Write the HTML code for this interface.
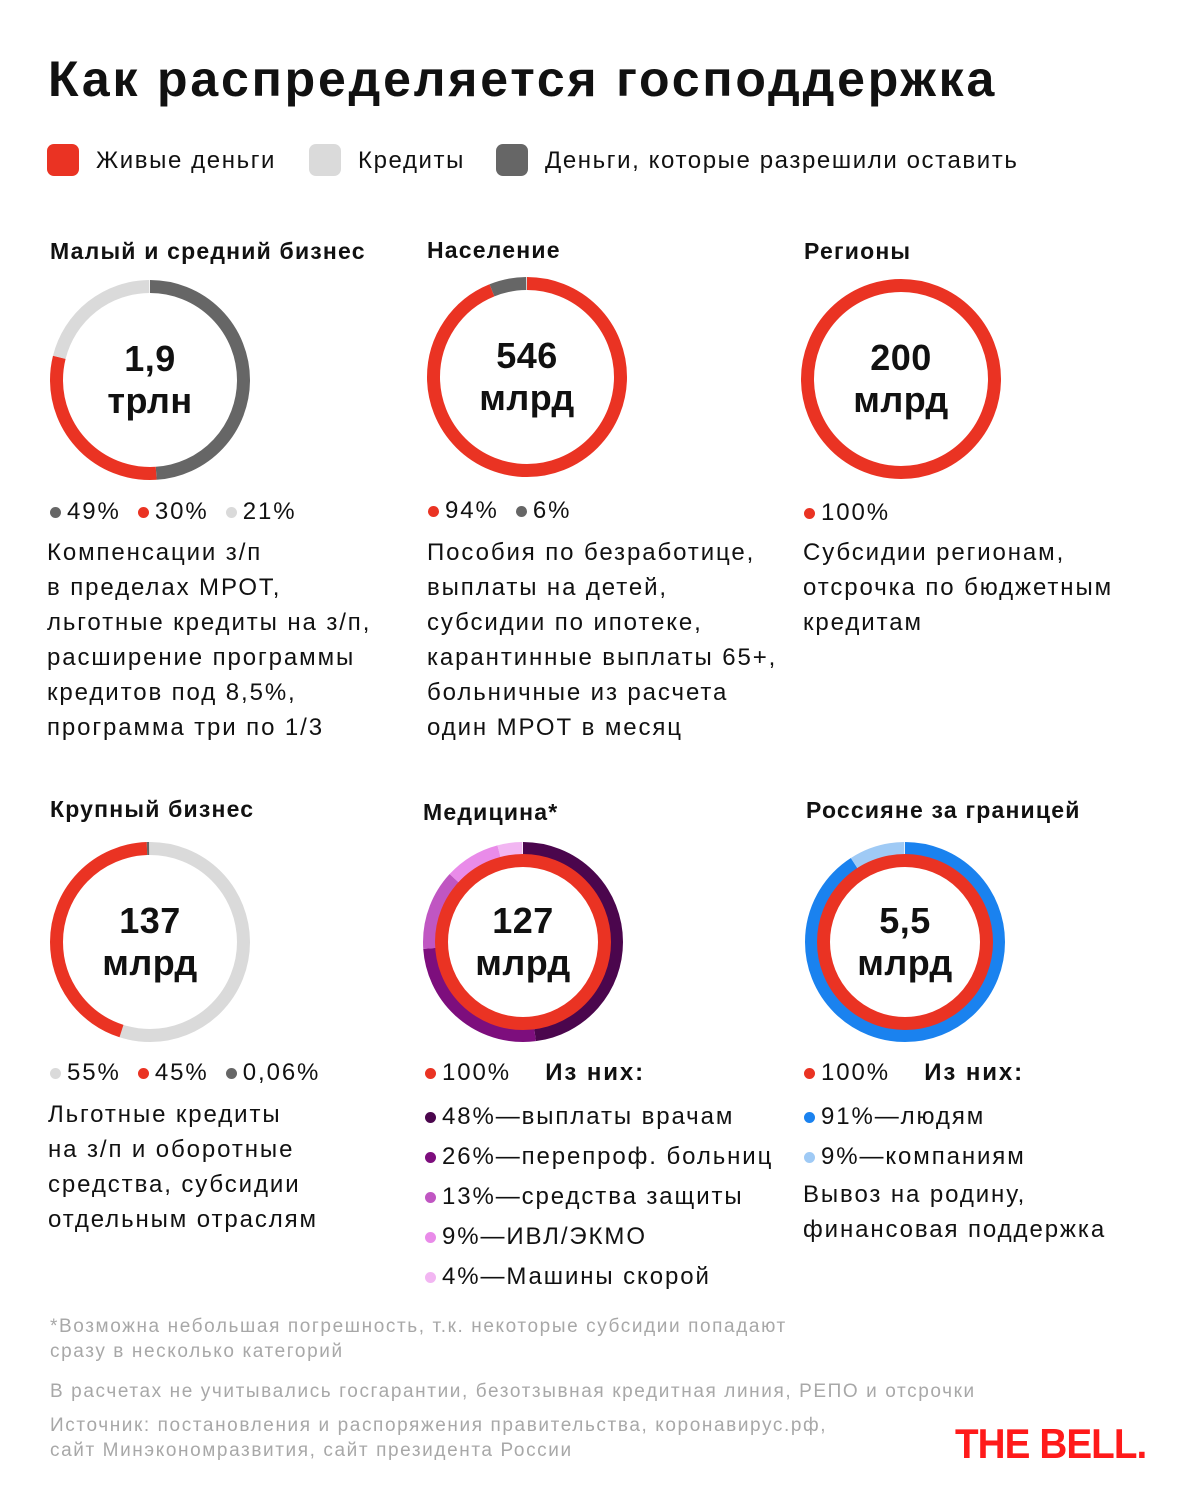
<!DOCTYPE html>
<html><head><meta charset="utf-8"><style>
body{margin:0;width:1200px;height:1500px;background:#fff;position:relative;font-family:"Liberation Sans",sans-serif;color:#111;overflow:hidden}
.a{position:absolute;white-space:nowrap}
.t{font-size:50px;font-weight:bold;left:48px;top:50px;letter-spacing:2.8px}
.h{font-size:23px;font-weight:bold;letter-spacing:1.2px}
.d{font-size:24px;line-height:35px;letter-spacing:1.9px}
.c{font-size:36px;font-weight:bold;text-align:center;line-height:42px;width:200px;letter-spacing:0.5px}
.f{font-size:19px;color:#a8a8a8;line-height:25px;letter-spacing:1.6px}
.dot{display:inline-block;width:11px;height:11px;border-radius:50%;margin-right:6px;vertical-align:1px}
.lg{font-size:24px;letter-spacing:1.6px}
.sq{position:absolute;width:32px;height:32px;border-radius:7px}
</style></head><body>
<div class="a t">Как распределяется господдержка</div>
<div class="sq" style="left:47px;top:144px;background:#ea3323"></div>
<div class="a lg" style="left:96px;top:147px">Живые деньги</div>
<div class="sq" style="left:309px;top:144px;background:#dadada"></div>
<div class="a lg" style="left:358px;top:147px">Кредиты</div>
<div class="sq" style="left:496px;top:144px;background:#666"></div>
<div class="a lg" style="left:545px;top:147px">Деньги, которые разрешили оставить</div>

<svg class="a" style="left:0;top:0" width="1200" height="1500">
<g fill="none" stroke-width="13">
<g transform="rotate(-90 150 380)">
<circle cx="150" cy="380" r="93.5" pathLength="100" stroke="#666" stroke-dasharray="49 100"/>
<circle cx="150" cy="380" r="93.5" pathLength="100" stroke="#ea3323" stroke-dasharray="30 100" stroke-dashoffset="-49"/>
<circle cx="150" cy="380" r="93.5" pathLength="100" stroke="#dadada" stroke-dasharray="21 100" stroke-dashoffset="-79"/>
</g>
<g transform="rotate(-90 527 377)">
<circle cx="527" cy="377" r="93.5" pathLength="100" stroke="#ea3323" stroke-dasharray="94 100"/>
<circle cx="527" cy="377" r="93.5" pathLength="100" stroke="#666" stroke-dasharray="6 100" stroke-dashoffset="-94"/>
</g>
<circle cx="901" cy="379" r="93.5" stroke="#ea3323"/>
<g transform="rotate(-90 150 942)">
<circle cx="150" cy="942" r="93.5" pathLength="100" stroke="#dadada" stroke-dasharray="55 100"/>
<circle cx="150" cy="942" r="93.5" pathLength="100" stroke="#ea3323" stroke-dasharray="44.6 100" stroke-dashoffset="-55"/>
<circle cx="150" cy="942" r="93.5" pathLength="100" stroke="#666" stroke-dasharray="0.4 100" stroke-dashoffset="-99.6"/>
</g>
<g transform="rotate(-90 523 942)">
<circle cx="523" cy="942" r="93.5" pathLength="100" stroke="#4b064d" stroke-dasharray="48 100"/>
<circle cx="523" cy="942" r="93.5" pathLength="100" stroke="#7d0e7d" stroke-dasharray="26 100" stroke-dashoffset="-48"/>
<circle cx="523" cy="942" r="93.5" pathLength="100" stroke="#c056c2" stroke-dasharray="13 100" stroke-dashoffset="-74"/>
<circle cx="523" cy="942" r="93.5" pathLength="100" stroke="#e98be9" stroke-dasharray="9 100" stroke-dashoffset="-87"/>
<circle cx="523" cy="942" r="93.5" pathLength="100" stroke="#f2b6f2" stroke-dasharray="4 100" stroke-dashoffset="-96"/>
</g>
<circle cx="523" cy="942" r="81.5" stroke="#ea3323"/>
<g transform="rotate(-90 905 942)">
<circle cx="905" cy="942" r="93.5" pathLength="100" stroke="#1a82ef" stroke-dasharray="91 100"/>
<circle cx="905" cy="942" r="93.5" pathLength="100" stroke="#9fcaf5" stroke-dasharray="9 100" stroke-dashoffset="-91"/>
</g>
<circle cx="905" cy="942" r="81.5" stroke="#ea3323"/>
</g>
</svg>

<div class="a h" style="left:50px;top:238px">Малый и средний бизнес</div>
<div class="a h" style="left:427px;top:237px">Население</div>
<div class="a h" style="left:804px;top:238px">Регионы</div>
<div class="a h" style="left:50px;top:796px">Крупный бизнес</div>
<div class="a h" style="left:423px;top:799px">Медицина*</div>
<div class="a h" style="left:806px;top:797px">Россияне за границей</div>

<div class="a c" style="left:50px;top:338px">1,9<br>трлн</div>
<div class="a c" style="left:427px;top:335px">546<br>млрд</div>
<div class="a c" style="left:801px;top:337px">200<br>млрд</div>
<div class="a c" style="left:50px;top:900px">137<br>млрд</div>
<div class="a c" style="left:423px;top:900px">127<br>млрд</div>
<div class="a c" style="left:805px;top:900px">5,5<br>млрд</div>

<div class="a d" style="left:50px;top:494px"><span class="dot" style="background:#666"></span>49% &nbsp;<span class="dot" style="background:#ea3323"></span>30% &nbsp;<span class="dot" style="background:#dadada"></span>21%</div>
<div class="a d" style="left:47px;top:535px">Компенсации з/п<br>в пределах МРОТ,<br>льготные кредиты на з/п,<br>расширение программы<br>кредитов под 8,5%,<br>программа три по 1/3</div>

<div class="a d" style="left:428px;top:493px"><span class="dot" style="background:#ea3323"></span>94% &nbsp;<span class="dot" style="background:#666"></span>6%</div>
<div class="a d" style="left:427px;top:535px">Пособия по безработице,<br>выплаты на детей,<br>субсидии по ипотеке,<br>карантинные выплаты 65+,<br>больничные из расчета<br>один МРОТ в месяц</div>

<div class="a d" style="left:804px;top:495px"><span class="dot" style="background:#ea3323"></span>100%</div>
<div class="a d" style="left:803px;top:535px">Субсидии регионам,<br>отсрочка по бюджетным<br>кредитам</div>

<div class="a d" style="left:50px;top:1055px"><span class="dot" style="background:#dadada"></span>55% &nbsp;<span class="dot" style="background:#ea3323"></span>45% &nbsp;<span class="dot" style="background:#666"></span>0,06%</div>
<div class="a d" style="left:48px;top:1097px">Льготные кредиты<br>на з/п и оборотные<br>средства, субсидии<br>отдельным отраслям</div>

<div class="a d" style="left:425px;top:1055px"><span class="dot" style="background:#ea3323"></span>100% &nbsp;&nbsp;&nbsp;<b>Из них:</b></div>
<div class="a d" style="left:425px;top:1097px;line-height:40px"><span class="dot" style="background:#4b064d"></span>48%—выплаты врачам<br><span class="dot" style="background:#7d0e7d"></span>26%—перепроф. больниц<br><span class="dot" style="background:#c056c2"></span>13%—средства защиты<br><span class="dot" style="background:#e98be9"></span>9%—ИВЛ/ЭКМО<br><span class="dot" style="background:#f2b6f2"></span>4%—Машины скорой</div>

<div class="a d" style="left:804px;top:1055px"><span class="dot" style="background:#ea3323"></span>100% &nbsp;&nbsp;&nbsp;<b>Из них:</b></div>
<div class="a d" style="left:804px;top:1097px;line-height:40px"><span class="dot" style="background:#1a82ef"></span>91%—людям<br><span class="dot" style="background:#9fcaf5"></span>9%—компаниям</div>
<div class="a d" style="left:803px;top:1177px">Вывоз на родину,<br>финансовая поддержка</div>

<div class="a f" style="left:50px;top:1314px">*Возможна небольшая погрешность, т.к. некоторые субсидии попадают<br>сразу в несколько категорий</div>
<div class="a f" style="left:50px;top:1379px">В расчетах не учитывались госгарантии, безотзывная кредитная линия, РЕПО и отсрочки</div>
<div class="a f" style="left:50px;top:1413px">Источник: постановления и распоряжения правительства, коронавирус.рф,<br>сайт Минэкономразвития, сайт президента России</div>
<div class="a" style="left:955px;top:1420px;font-size:42px;font-weight:bold;color:#ff1a1a;letter-spacing:-1px;transform:scaleX(0.92);transform-origin:left">THE BELL.</div>
</body></html>
